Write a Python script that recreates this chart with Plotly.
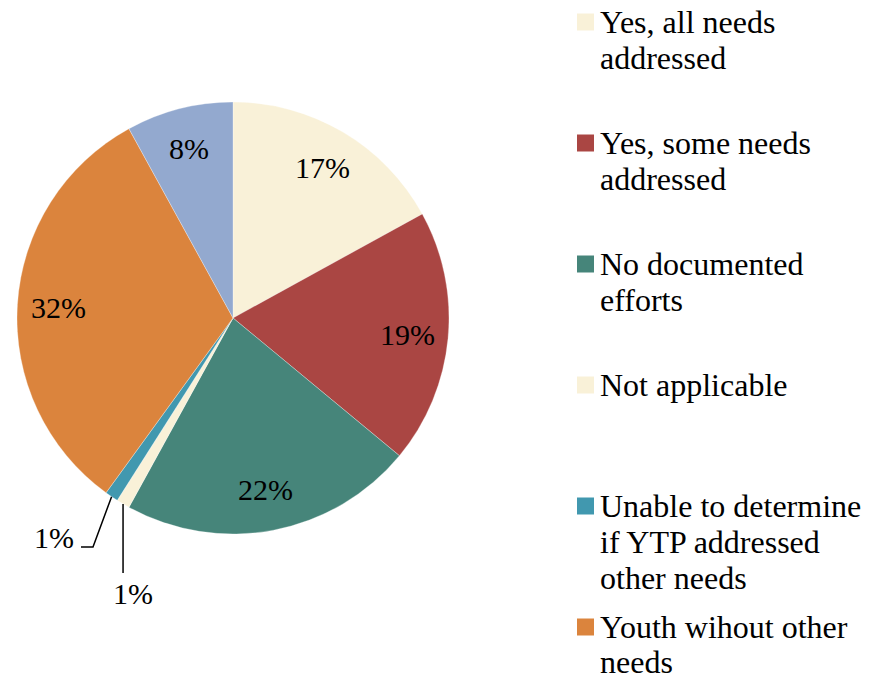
import math
import plotly.graph_objects as go

# Share of youth by whether other needs were addressed
labels = [
    "Yes, all needs addressed",
    "Yes, some needs addressed",
    "No documented efforts",
    "Not applicable",
    "Unable to determine if YTP addressed other needs",
    "Youth wihout other needs",
    "Other",
]
values = [17, 19, 22, 1, 1, 32, 8]
colors = ["#F9F1D8", "#AA4643", "#46857A", "#F9F1D8", "#4198AF", "#DB843D", "#93A9CF"]

# Legend text, wrapped as it is shown
legend_lines = [
    ["Yes, all needs", "addressed"],
    ["Yes, some needs", "addressed"],
    ["No documented", "efforts"],
    ["Not applicable"],
    ["Unable to determine", "if YTP addressed", "other needs"],
    ["Youth wihout other", "needs"],
]

W, H = 884, 679
CX, CY, R = 233, 318, 216          # pie centre and radius, px
FONT = "Liberation Serif, Times New Roman, serif"


def px(x):
    return x / W


def py(y):
    return 1 - y / H


fig = go.Figure(
    go.Pie(
        labels=labels,
        values=values,
        sort=False,
        direction="clockwise",
        rotation=0,
        marker=dict(colors=colors, line=dict(color="white", width=0.3)),
        textinfo="none",
        hoverinfo="label+percent",
        showlegend=False,
        domain=dict(x=[px(CX - R), px(CX + R)], y=[py(CY + R), py(CY - R)]),
    )
)

annotations = []
shapes = []

# Slice labels, placed on each slice's mid-angle
total = sum(values)
cum = 0
mids = []
for v in values:
    mid = (cum + v / 2) / total * 2 * math.pi
    mids.append(mid)
    cum += v


def on_circle(angle, r):
    return CX + r * math.sin(angle), CY - r * math.cos(angle)


LABEL_SIZE = 30
for i, v in enumerate(values):
    if v / total < 0.03:
        continue
    x, y = on_circle(mids[i], 0.81 * R)
    annotations.append(dict(
        x=px(x), y=py(y), xref="paper", yref="paper", text=f"{v}%",
        showarrow=False, xanchor="center", yanchor="middle",
        font=dict(family=FONT, size=LABEL_SIZE, color="black"),
    ))

# Leader lines for the two thin slices
line_style = dict(color="black", width=1.5)
# "Not applicable": straight down
ax, ay = on_circle(mids[3], R)
shapes.append(dict(type="line", xref="paper", yref="paper",
                   x0=px(ax), y0=py(ay), x1=px(ax), y1=py(573), line=line_style))
annotations.append(dict(x=px(ax + 10), y=py(593), xref="paper", yref="paper",
                        text=f"{values[3]}%", showarrow=False,
                        xanchor="center", yanchor="middle",
                        font=dict(family=FONT, size=LABEL_SIZE, color="black")))
# "Unable to determine": down-left with a short horizontal tail
bx, by = on_circle(mids[4], R)
shapes.append(dict(type="path", xref="paper", yref="paper",
                   path=f"M {px(bx)},{py(by)} L {px(93)},{py(547)} L {px(81)},{py(547)}",
                   line=line_style))
annotations.append(dict(x=px(54), y=py(537), xref="paper", yref="paper",
                        text=f"{values[4]}%", showarrow=False,
                        xanchor="center", yanchor="middle",
                        font=dict(family=FONT, size=LABEL_SIZE, color="black")))

# Legend: evenly spaced slots, square swatch + wrapped text
slot0, slot_step, line_step = 22, 121, 36
for i, lines in enumerate(legend_lines):
    yc = slot0 + i * slot_step
    shapes.append(dict(type="rect", xref="paper", yref="paper",
                       x0=px(577), x1=px(594), y0=py(yc - 8.5), y1=py(yc + 8.5),
                       fillcolor=colors[i], line=dict(width=0)))
    for j, t in enumerate(lines):
        ty = yc + j * line_step
        extra = {}
        if ty + 20 > H:
            # keep the last wrapped line's box inside the page
            ty -= 1
            extra = dict(height=34, valign="middle")
        annotations.append(dict(
            x=px(598), y=py(ty), xref="paper", yref="paper",
            text=t, showarrow=False, xanchor="left", yanchor="middle",
            font=dict(family=FONT, size=32, color="black"), **extra,
        ))

fig.update_layout(
    width=W, height=H,
    margin=dict(l=0, r=0, t=0, b=0),
    paper_bgcolor="white", plot_bgcolor="white",
    font=dict(family=FONT),
    annotations=annotations, shapes=shapes,
)

fig.write_html("out.html")
